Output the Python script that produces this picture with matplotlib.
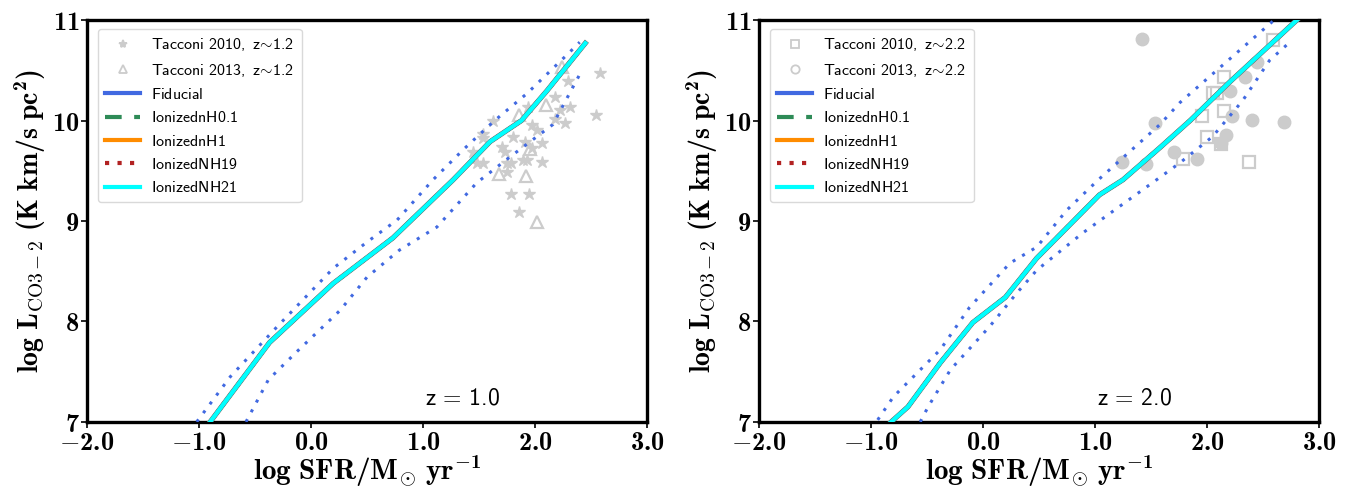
import numpy as np
import matplotlib.pyplot as plt
import matplotlib.patheffects as pe
from matplotlib.lines import Line2D
from matplotlib.ticker import FixedLocator, FuncFormatter

# Computer Modern look: bold serif for axes, sans for legend text
plt.rcParams.update({
    'mathtext.fontset': 'custom',
    'mathtext.rm': 'cmr10',
    'mathtext.bf': 'cmb10',
    'mathtext.sf': 'cmss10',
    'mathtext.it': 'cmmi10',
    'mathtext.fallback': 'cm',
})

# ---- model curves (all runs overlap) ----
# z = 1
sfr_z1 = [-1.00, -0.90, -0.37, 0.20, 0.73, 1.27, 1.60, 1.88, 2.11, 2.45]
lco_z1 = [6.86, 7.00, 7.79, 8.38, 8.83, 9.41, 9.79, 10.00, 10.30, 10.77]
sfr_z1_hi = [-1.02, -0.72, -0.30, 0.20, 0.50, 0.77, 1.09, 1.36, 1.63, 1.93, 2.31, 2.40]
lco_z1_hi = [7.00, 7.45, 7.95, 8.53, 8.79, 9.01, 9.41, 9.71, 9.99, 10.27, 10.68, 10.78]
sfr_z1_lo = [-0.58, -0.38, -0.125, 0.26, 0.50, 0.79, 1.125, 1.48, 1.78, 2.16, 2.42]
lco_z1_lo = [7.00, 7.42, 7.70, 8.11, 8.44, 8.71, 8.94, 9.38, 9.64, 9.96, 10.50]

# z = 2
sfr_z2 = [-0.90, -0.83, -0.67, -0.38, -0.09, 0.20, 0.48, 1.04, 1.25, 1.58, 1.85, 2.20, 2.90]
lco_z2 = [6.90, 6.99, 7.15, 7.59, 7.99, 8.24, 8.63, 9.26, 9.41, 9.73, 10.00, 10.38, 11.10]
sfr_z2_hi = [-0.94, -0.80, -0.38, -0.12, 0.24, 0.48, 0.75, 1.03, 1.58, 1.76, 2.60, 2.70]
lco_z2_hi = [7.02, 7.25, 7.72, 8.14, 8.58, 8.74, 9.11, 9.41, 9.96, 10.18, 11.00, 11.10]
sfr_z2_lo = [-0.56, -0.49, -0.29, 0.06, 0.30, 0.48, 0.89, 1.55, 1.76, 2.05, 2.32, 2.56, 2.76]
lco_z2_lo = [7.00, 7.15, 7.52, 7.95, 8.28, 8.51, 8.88, 9.41, 9.58, 9.84, 10.20, 10.60, 10.80]

# ---- observations ----
t10_z1_x = [2.58, 2.55, 2.30, 2.18, 2.22, 2.31, 2.27, 2.18, 2.02, 1.97, 1.94, 2.06, 1.91, 1.80,
            1.71, 1.73, 1.63, 1.54, 1.54, 1.45, 1.48, 1.54, 1.75, 1.79, 1.89, 1.93, 2.06, 1.75,
            1.79, 1.95, 1.86, 1.97]
t10_z1_y = [10.47, 10.06, 10.39, 10.23, 10.10, 10.13, 9.98, 10.02, 9.91, 9.96, 10.13, 9.78, 9.79, 9.84,
            9.74, 9.69, 10.00, 9.87, 9.83, 9.69, 9.58, 9.58, 9.58, 9.58, 9.61, 9.61, 9.59, 9.49,
            9.27, 9.27, 9.09, 9.73]
t13_z1_x = [1.68, 1.92, 2.02, 1.86, 2.10, 2.24, 1.96]
t13_z1_y = [9.47, 9.45, 8.99, 10.06, 10.15, 10.53, 9.72]

t10_z2_x = [2.59, 2.15, 2.09, 2.05, 2.15, 1.96, 2.00, 1.79, 2.38, 2.13]
t10_z2_y = [10.80, 10.43, 10.27, 10.27, 10.09, 10.05, 9.84, 9.62, 9.59, 9.77]
t13_z2_x = [2.45, 2.34, 2.21, 2.22, 2.40, 2.69, 2.17, 2.13, 1.71, 1.91, 1.42, 1.54, 1.24, 1.46]
t13_z2_y = [10.58, 10.43, 10.29, 10.05, 10.01, 9.99, 9.86, 9.78, 9.69, 9.62, 10.81, 9.98, 9.59, 9.57]

models = ['Fiducial', 'IonizednH0.1', 'IonizednH1', 'IonizedNH19', 'IonizedNH21']
model_colors = ['royalblue', 'seagreen', 'darkorange', 'firebrick', 'cyan']
model_styles = ['-', (0, (4, 3)), '-', (0, (1, 2)), '-']

xticks = [-2.0, -1.0, 0.0, 1.0, 2.0, 3.0]
yticks = [7, 8, 9, 10, 11]

GRAY = '0.8'


def sf(s):
    return r'$\mathsf{' + s + '}$'


def tacconi(year, z):
    return r'$\mathsf{Tacconi\ ' + year + r',\ z}\!\sim\!\mathsf{' + z + '}$'


def draw_panel(ax, x, y, xhi, yhi, xlo, ylo, zlabel, obs):
    # model curves
    for name, c, ls in zip(models, model_colors, model_styles):
        if name == 'IonizedNH21':
            ax.plot(x, y, color=c, lw=3, ls=ls, zorder=6,
                    path_effects=[pe.Stroke(linewidth=3.7, foreground='0.45'), pe.Normal()])
        else:
            ax.plot(x, y, color=c, lw=3, ls=ls, zorder=5)
    ax.plot(xhi, yhi, color='royalblue', lw=2.2, ls=(0, (1, 2.6)), zorder=5)
    ax.plot(xlo, ylo, color='royalblue', lw=2.2, ls=(0, (1, 2.6)), zorder=5)

    handles = []
    for (ox, oy, mk, filled, lab, ms) in obs:
        if filled:
            ax.plot(ox, oy, ls='none', marker=mk, ms=ms, color=GRAY, mec=GRAY, zorder=3)
        else:
            ax.plot(ox, oy, ls='none', marker=mk, ms=ms, mfc='none', mec=GRAY, mew=1.6, zorder=3)
        hfill = 'none' if mk != '*' else GRAY
        handles.append(Line2D([], [], ls='none', marker=mk, ms=6, mfc=hfill, mec=GRAY, mew=1.3,
                              label=lab))
    for name, c, ls in zip(models, model_colors, model_styles):
        handles.append(Line2D([], [], color=c, lw=3, ls=ls, label=sf(name)))

    ax.legend(handles=handles, loc='upper left', fontsize=11.5, handlelength=2.2,
              handletextpad=0.7, borderpad=0.45, labelspacing=0.52, framealpha=1,
              edgecolor='0.85', bbox_to_anchor=(0.005, 0.997))

    ax.text(1.02, 7.17, sf('z') + r'$\,=\,$' + sf(zlabel), fontsize=17)

    ax.set_xlim(-2.0, 3.0)
    ax.set_ylim(7, 11)
    ax.xaxis.set_major_locator(FixedLocator(xticks))
    ax.yaxis.set_major_locator(FixedLocator(yticks))
    ax.xaxis.set_major_formatter(FuncFormatter(lambda v, p: r'$\mathbf{%.1f}$' % v))
    ax.yaxis.set_major_formatter(FuncFormatter(lambda v, p: r'$\mathbf{%d}$' % v))
    ax.tick_params(labelsize=19, width=1.2, length=4, pad=1.5)
    for s in ax.spines.values():
        s.set_linewidth(2.4)
    ax.set_xlabel(r'$\mathbf{log\ SFR/M_{\odot}\ yr^{-1}}$', fontsize=21)
    ax.xaxis.set_label_coords(0.5, -0.078)
    ax.set_ylabel(r'$\mathbf{log\ L_{\mathrm{CO3-2}}\ (K\ km/s\ pc^{2})}$', fontsize=20, labelpad=3)


fig = plt.figure(figsize=(13.59, 4.90), dpi=100)
ax1 = fig.add_axes([0.064, 0.139, 0.412, 0.820])
ax2 = fig.add_axes([0.5585, 0.139, 0.412, 0.820])

obs_z1 = [(t10_z1_x, t10_z1_y, '*', True, tacconi('2010', '1.2'), 9),
          (t13_z1_x, t13_z1_y, '^', False, tacconi('2013', '1.2'), 9)]
obs_z2 = [(t10_z2_x, t10_z2_y, 's', False, tacconi('2010', '2.2'), 8),
          (t13_z2_x, t13_z2_y, 'o', True, tacconi('2013', '2.2'), 9)]

draw_panel(ax1, sfr_z1, lco_z1, sfr_z1_hi, lco_z1_hi, sfr_z1_lo, lco_z1_lo, '1.0', obs_z1)
draw_panel(ax2, sfr_z2, lco_z2, sfr_z2_hi, lco_z2_hi, sfr_z2_lo, lco_z2_lo, '2.0', obs_z2)

fig.savefig('out.png', dpi=100)
